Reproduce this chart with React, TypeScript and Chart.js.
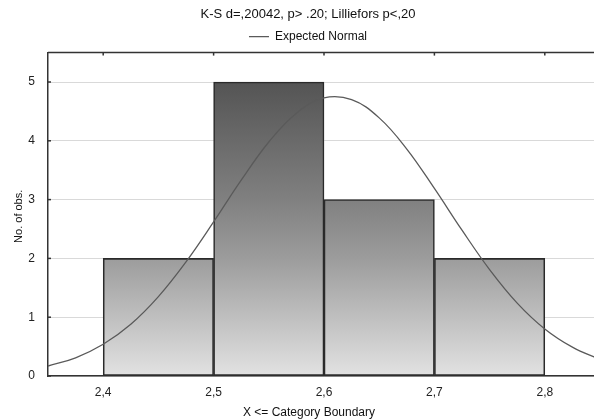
import React, { useEffect, useRef } from "react";
import { Chart, registerables } from "chart.js";

Chart.register(...registerables);

const titleText = "K-S d=,20042, p> .20; Lilliefors p<,20";
const legendLabel = "Expected Normal";
const xAxisTitle = "X <= Category Boundary";
const yAxisTitle = "No. of obs.";

const xTicks = [2.4, 2.5, 2.6, 2.7, 2.8];
const yTicks = [0, 1, 2, 3, 4, 5];
const binCenters = [2.45, 2.55, 2.65, 2.75];
const counts = [2, 5, 3, 2];

const curveX = [2.35, 2.375, 2.4, 2.425, 2.45, 2.475, 2.5, 2.525, 2.55, 2.575, 2.6, 2.625, 2.65, 2.675, 2.7, 2.725, 2.75, 2.775, 2.8, 2.825, 2.85];
const curveY = [0.17, 0.31, 0.54, 0.88, 1.35, 1.94, 2.62, 3.33, 3.98, 4.47, 4.73, 4.7, 4.39, 3.86, 3.19, 2.48, 1.81, 1.24, 0.8, 0.49, 0.28];

const FONT = "'Liberation Sans', Arial, sans-serif";

const framePlugin = {
  id: "frame",
  afterDatasetsDraw(chart: any) {
    const { ctx, chartArea, scales } = chart;
    ctx.save();
    ctx.strokeStyle = "#333";
    ctx.lineWidth = 1.5;
    ctx.beginPath();
    ctx.moveTo(chartArea.left, chartArea.top);
    ctx.lineTo(chartArea.right + 2, chartArea.top);
    ctx.stroke();
    xTicks.forEach((v) => {
      const px = scales.x.getPixelForValue(v);
      ctx.beginPath();
      ctx.moveTo(px, chartArea.top);
      ctx.lineTo(px, chartArea.top + 3);
      ctx.stroke();
    });
    yTicks.forEach((v) => {
      const py = scales.y.getPixelForValue(v);
      ctx.beginPath();
      ctx.moveTo(chartArea.left, py);
      ctx.lineTo(chartArea.left + 3, py);
      ctx.stroke();
    });
    ctx.restore();
  },
  afterDraw(chart: any) {
    const { ctx, chartArea } = chart;
    ctx.save();
    ctx.fillStyle = "#111";
    ctx.font = `12px ${FONT}`;
    ctx.textAlign = "center";
    ctx.textBaseline = "middle";
    ctx.fillText(xAxisTitle, (chartArea.left + chartArea.right) / 2 - 15, chartArea.bottom + 37);
    ctx.font = `11px ${FONT}`;
    ctx.translate(19, (chartArea.top + chartArea.bottom) / 2 + 2);
    ctx.rotate(-Math.PI / 2);
    ctx.fillText(yAxisTitle, 0, 0);
    ctx.restore();
  },
};

export default function App() {
  const ref = useRef<HTMLCanvasElement | null>(null);

  useEffect(() => {
    document.body.style.margin = "0";
    if (!ref.current) return;
    const barGradient = (context: any) => {
      const chart = context.chart;
      const { chartArea, scales } = chart;
      if (!chartArea) return "#999";
      const y0 = scales.y.getPixelForValue(0);
      const y5 = scales.y.getPixelForValue(5);
      const g = chart.ctx.createLinearGradient(0, y0, 0, y5);
      g.addColorStop(0, "rgb(226,226,226)");
      g.addColorStop(0.4, "rgb(156,156,156)");
      g.addColorStop(0.6, "rgb(128,128,128)");
      g.addColorStop(1, "rgb(84,84,84)");
      return g;
    };

    const chart = new Chart(ref.current, {
      type: "bar",
      data: {
        datasets: [
          {
            type: "line",
            label: legendLabel,
            data: curveX.map((x, i) => ({ x, y: curveY[i] })),
            borderColor: "#5a5a5a",
            backgroundColor: "#5a5a5a",
            borderWidth: 1.3,
            pointRadius: 0,
            tension: 0.4,
            pointStyle: "line",
            order: 0,
          } as any,
          {
            type: "bar",
            label: "obs",
            data: binCenters.map((x, i) => ({ x, y: counts[i] })),
            backgroundColor: barGradient,
            borderColor: "#2a2a2a",
            borderWidth: 1.6,
            borderSkipped: false,
            barPercentage: 1,
            categoryPercentage: 1,
            order: 1,
          } as any,
        ],
      },
      options: {
        responsive: false,
        animation: false,
        layout: { padding: { left: 16, right: 0, top: 1, bottom: 0 } },
        plugins: {
          title: {
            display: true,
            text: titleText,
            color: "#111",
            font: { family: FONT, size: 13, weight: "normal" },
            padding: { top: 6, bottom: 0 },
          },
          legend: {
            display: true,
            labels: {
              filter: (item: any) => item.text === legendLabel,
              usePointStyle: true,
              pointStyleWidth: 20,
              boxHeight: 10,
              color: "#111",
              font: { family: FONT, size: 12 },
              padding: 8,
            },
          },
          tooltip: { enabled: false },
        },
        scales: {
          x: {
            type: "linear",
            min: 2.35,
            max: 2.85,
            offset: false,
            afterFit: (scale: any) => {
              scale.height = 44;
            },
            afterBuildTicks: (scale: any) => {
              scale.ticks = xTicks.map((v) => ({ value: v }));
            },
            ticks: {
              color: "#222",
              font: { family: FONT, size: 12 },
              padding: 9,
              maxRotation: 0,
              callback: (v: any) => Number(v).toFixed(1).replace(".", ","),
            },
            grid: { display: false, drawTicks: false },
            border: { display: true, color: "#333", width: 1.5 },
          },
          y: {
            type: "linear",
            min: 0,
            max: 5.5,
            afterFit: (scale: any) => {
              scale.width = 32;
            },
            afterBuildTicks: (scale: any) => {
              scale.ticks = yTicks.map((v) => ({ value: v }));
            },
            ticks: {
              color: "#222",
              font: { family: FONT, size: 12 },
              padding: 13,
            },
            grid: { color: "#d9d9d9", lineWidth: 1, drawTicks: false },
            border: { display: true, color: "#333", width: 1.5 },
          },
        },
      } as any,
      plugins: [framePlugin],
    });
    return () => chart.destroy();
  }, []);

  return (
    <div style={{ width: 594, height: 420, overflow: "hidden", position: "relative" }}>
      <canvas ref={ref} width={600} height={420} style={{ display: "block", width: 600, height: 420 }} />
    </div>
  );
}
